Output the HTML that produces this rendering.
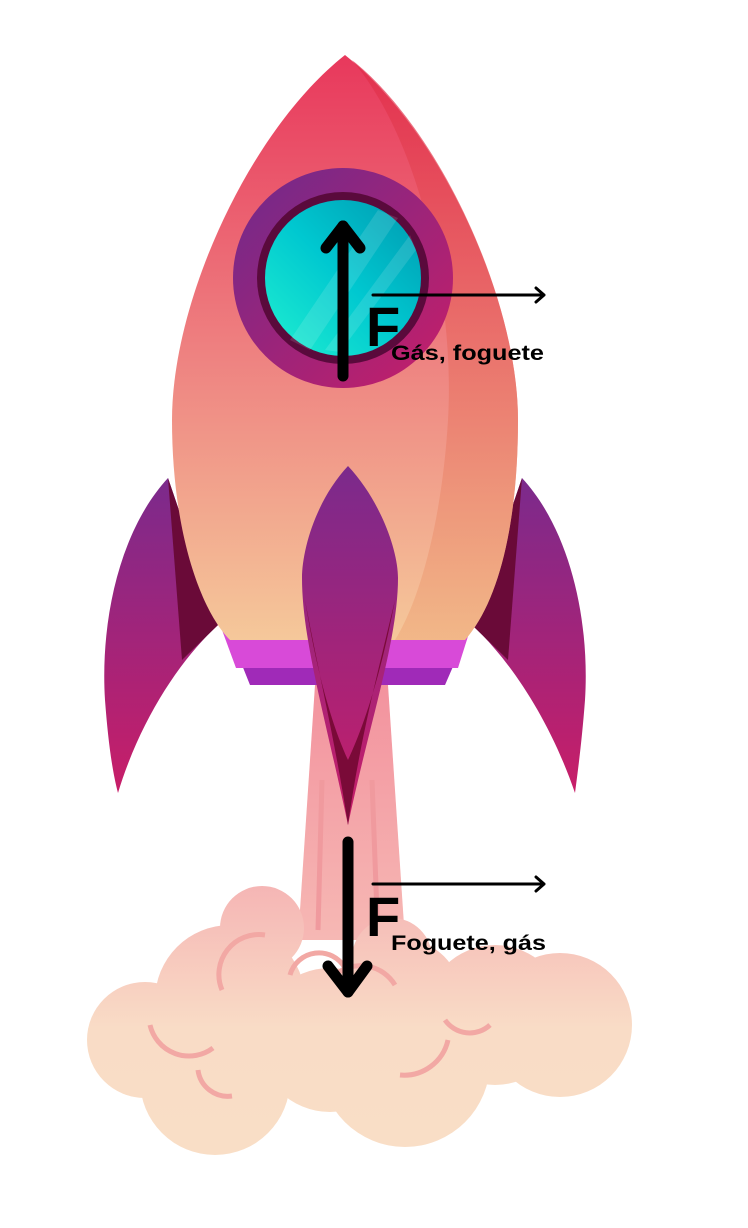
<!DOCTYPE html>
<html><head><meta charset="utf-8"><style>html,body{margin:0;padding:0;background:#fff}svg{display:block}</style></head><body>
<svg width="748" height="1228" viewBox="0 0 748 1228" xmlns="http://www.w3.org/2000/svg">
<defs>
<linearGradient id="body" x1="0" y1="0" x2="0" y2="1"><stop offset="0" stop-color="#e8385c"/><stop offset="0.5" stop-color="#ee8080"/><stop offset="1" stop-color="#f5c89a"/></linearGradient>
<linearGradient id="shade" x1="0" y1="0" x2="0" y2="1"><stop offset="0" stop-color="#e02a48"/><stop offset="1" stop-color="#f0b080"/></linearGradient>
<linearGradient id="fin" x1="0" y1="0" x2="0" y2="1"><stop offset="0" stop-color="#7b2a8c"/><stop offset="1" stop-color="#c81e68"/></linearGradient>
<linearGradient id="ring" x1="0" y1="0" x2="1" y2="1"><stop offset="0" stop-color="#6e2a8c"/><stop offset="1" stop-color="#c81e68"/></linearGradient>
<linearGradient id="glass" x1="1" y1="0" x2="0" y2="1"><stop offset="0" stop-color="#0098b0"/><stop offset="0.5" stop-color="#00c8d0"/><stop offset="1" stop-color="#20f0d0"/></linearGradient>
<linearGradient id="exh" x1="0" y1="0" x2="0" y2="1"><stop offset="0" stop-color="#f28c9a"/><stop offset="1" stop-color="#f6b8b4"/></linearGradient>
<linearGradient id="cloud" gradientUnits="userSpaceOnUse" x1="0" y1="880" x2="0" y2="1150"><stop offset="0" stop-color="#f5b4b4"/><stop offset="0.55" stop-color="#f9dcc6"/><stop offset="1" stop-color="#f9dec6"/></linearGradient>
</defs>
<!-- exhaust -->
<path d="M318,640 L385,640 L405,940 L298,940 Z" fill="url(#exh)"/>
<path d="M322,780 L318,930" stroke="#f09a9e" stroke-width="5"/>
<path d="M372,780 L378,940" stroke="#f09a9e" stroke-width="5"/>
<!-- cloud -->
<g fill="url(#cloud)">
<circle cx="262" cy="928" r="42"/><circle cx="392" cy="958" r="40"/>
<circle cx="230" cy="1000" r="75"/><circle cx="400" cy="1000" r="62"/><circle cx="495" cy="1015" r="70"/>
<circle cx="145" cy="1040" r="58"/><circle cx="215" cy="1080" r="75"/><circle cx="330" cy="1040" r="72"/>
<circle cx="405" cy="1062" r="85"/><circle cx="560" cy="1025" r="72"/>
</g>
<g fill="none" stroke="#f2a8a4" stroke-width="5">
<path d="M222,990 A40,40 0 0 1 265,935"/><path d="M290,975 A30,30 0 0 1 345,968"/><path d="M335,975 A40,40 0 0 1 395,985"/>
<path d="M150,1025 A40,40 0 0 0 213,1048"/><path d="M198,1070 A30,30 0 0 0 232,1096"/>
<path d="M400,1075 A45,45 0 0 0 448,1040"/><path d="M445,1020 A30,30 0 0 0 490,1025"/>
</g>
<!-- fins -->
<path d="M168,478 C120,530 100,620 105,700 C108,740 112,770 118,793 C140,720 180,660 218,625 Z" fill="url(#fin)"/>
<path d="M168,478 L182,660 L218,625 Z" fill="#6a0a38"/>
<path d="M522,478 C570,530 590,620 585,700 C582,740 578,770 575,793 C550,720 510,660 472,625 Z" fill="url(#fin)"/>
<path d="M522,478 L508,660 L472,625 Z" fill="#6a0a38"/>
<!-- band -->
<path d="M238,655 L458,655 L445,685 L250,685 Z" fill="#a02ab8"/>
<path d="M222,630 L470,630 L458,668 L236,668 Z" fill="#d84ad8"/>
<!-- body -->
<path d="M345,55 C250,130 172,300 172,420 C172,530 200,610 230,640 L465,640 C500,600 518,520 518,420 C518,300 440,130 345,55 Z" fill="url(#body)"/>
<path d="M352,60 C420,140 455,300 448,420 C442,520 420,600 395,640 L465,640 C500,600 518,520 518,420 C518,300 440,130 352,60 Z" fill="url(#shade)" opacity="0.7"/>
<!-- center fin -->
<path d="M348,466 C380,500 398,550 398,578 C398,640 370,720 348,825 C326,720 302,640 302,578 C302,550 316,500 348,466 Z" fill="url(#fin)"/>
<path d="M305,600 C320,680 335,740 348,825 C360,740 376,680 395,600 C380,680 362,730 348,760 C334,730 318,680 305,600 Z" fill="#7a0a38"/>
<!-- window -->
<circle cx="343" cy="278" r="110" fill="url(#ring)"/>
<circle cx="343" cy="278" r="86" fill="#5a0a3c"/>
<circle cx="343" cy="278" r="78" fill="url(#glass)"/>
<path d="M290,340 L378,210 L398,218 L310,350 Z" fill="#ffffff" opacity="0.12"/>
<path d="M325,350 L410,235 L416,250 L340,352 Z" fill="#ffffff" opacity="0.12"/>
<!-- arrows -->
<g stroke="#000" stroke-linecap="round" stroke-linejoin="round" fill="none">
<path d="M343,376 L343,226" stroke-width="11"/><path d="M326,248 L343,226 L360,248" stroke-width="11"/>
<path d="M348,842 L348,992" stroke-width="11"/><path d="M328,966 L348,992 L367,966" stroke-width="11"/>
<path d="M373,295 L544,295 M536,288 L544,295 L536,302" stroke-width="3"/>
<path d="M373,884 L544,884 M536,877 L544,884 L536,891" stroke-width="3"/>
</g>
<g font-family="Liberation Sans, sans-serif" font-weight="bold" fill="#000">
<text x="366" y="346" font-size="56">F</text>
<text x="391" y="360" font-size="21" textLength="153" lengthAdjust="spacingAndGlyphs">Gás, foguete</text>
<text x="366" y="936" font-size="56">F</text>
<text x="391" y="950" font-size="21" textLength="155" lengthAdjust="spacingAndGlyphs">Foguete, gás</text>
</g>
</svg>
</body></html>
